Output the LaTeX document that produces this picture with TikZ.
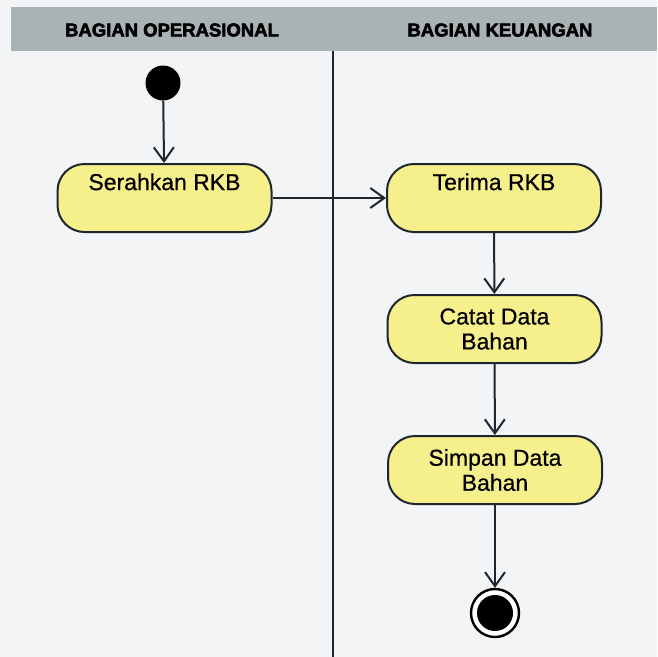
\documentclass[tikz,border=0pt]{standalone}
\usepackage{fontspec}
\setmainfont{Liberation Sans}
\newfontfamily\headfont[FakeBold=3]{Liberation Sans Bold}
\newfontfamily\actfont[FakeBold=0.6]{Liberation Sans}
\usetikzlibrary{arrows.meta}
\definecolor{paper}{HTML}{F3F4F5}
\definecolor{band}{HTML}{A9B2B5}
\definecolor{actfill}{HTML}{F6F08C}
\definecolor{ink}{HTML}{1E2630}
\tikzset{
  activity/.style={draw=ink, line width=2pt, fill=actfill, rounded corners=27pt,
    minimum width=214pt, minimum height=68pt, inner sep=0pt, align=center,
    font=\actfont\fontsize{23}{25}\selectfont},
  lanehead/.style={font=\headfont\fontsize{18.5}{21}\selectfont, text=black},
  flow/.style={draw=ink, line width=2pt, -{Straight Barb[length=14pt,width=20pt,line width=2pt]}},
  initial/.style={circle, fill=black, minimum size=35pt, inner sep=0pt},
  finalring/.style={circle, draw=black, line width=2.4pt, fill=white, minimum size=48pt, inner sep=0pt},
  finaldot/.style={circle, fill=black, minimum size=36pt, inner sep=0pt}
}
\begin{document}
\begin{tikzpicture}[x=1pt,y=-1pt]
  % page and swimlane header
  \fill[paper] (0,0) rectangle (657,657);
  \useasboundingbox (0,0) rectangle (657,657);
  \fill[band] (11,7) rectangle (657,51);
  \node[lanehead] (laneA) at (172,30) {BAGIAN OPERASIONAL};
  \node[lanehead] (laneB) at (500,30) {BAGIAN KEUANGAN};
  \draw[ink, line width=2pt] (333,51) -- (333,657);

  % activities
  \node[initial] (start) at (163,83) {};
  \node[activity] (serah) at (164.5,198) {Serahkan RKB\\\strut};
  \node[activity] (terima) at (494,198) {Terima RKB\\\strut};
  \node[activity] (catat) at (494.5,329) {Catat Data\\Bahan};
  \node[activity] (simpan) at (495,470) {Simpan Data\\Bahan};
  \node[finalring] (end) at (495,613) {};
  \node[finaldot] (enddot) at (end) {};

  % control flow
  \draw[flow] (start) -- (serah);
  \draw[flow] (serah.east) -- (terima.west);
  \draw[flow] (terima) -- (catat);
  \draw[flow] (catat) -- (simpan);
  \draw[flow] (simpan) -- (end);
\end{tikzpicture}
\end{document}
